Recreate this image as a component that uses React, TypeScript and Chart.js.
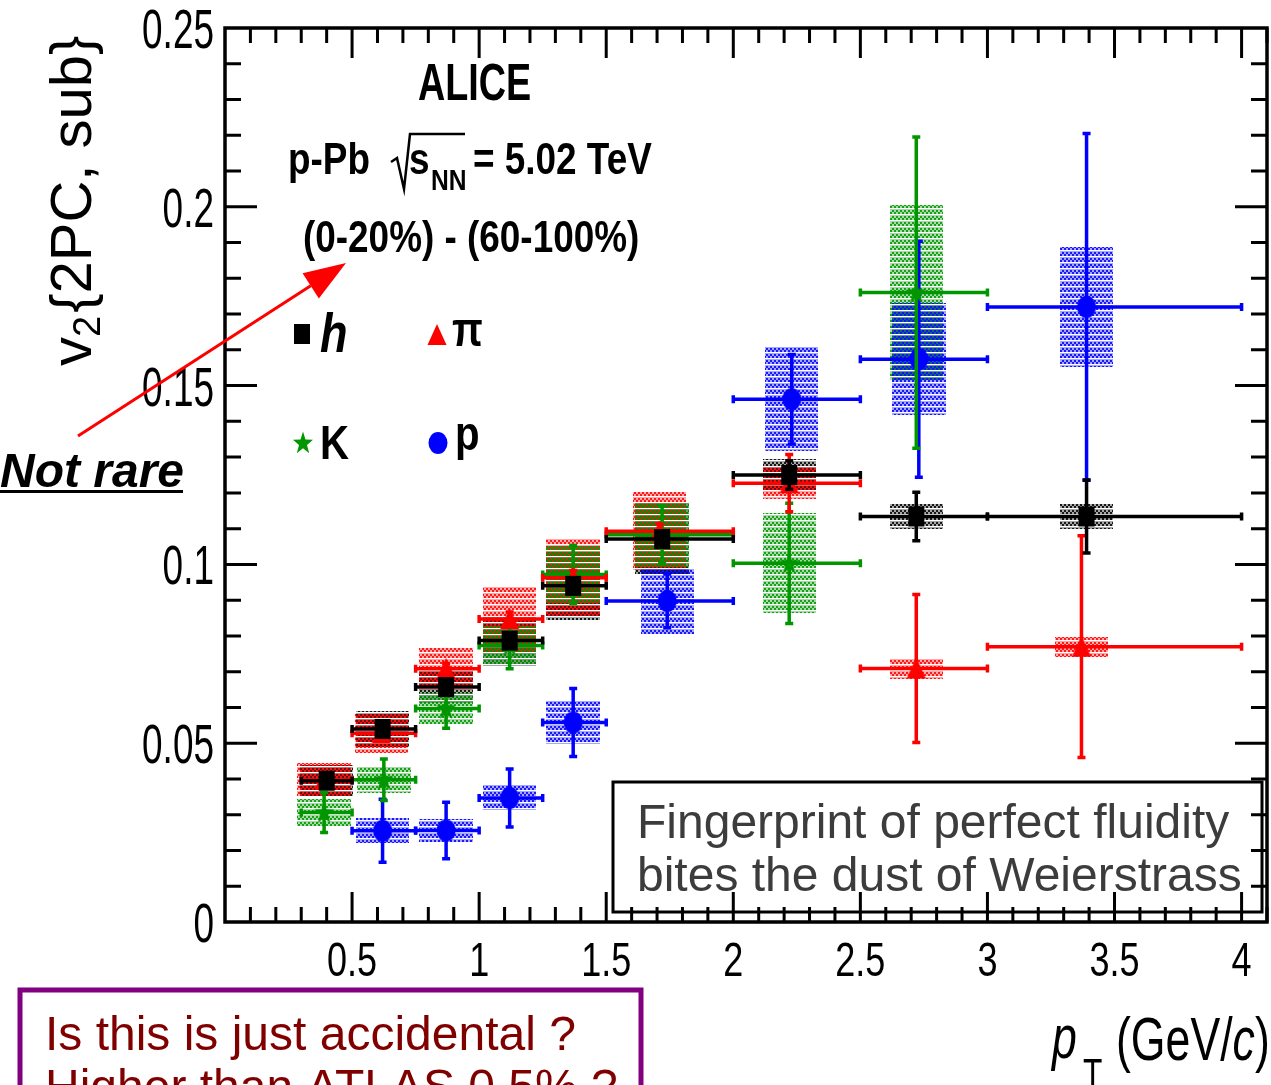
import React, { useEffect, useRef } from "react";
import { Chart, registerables } from "chart.js";
Chart.register(...registerables);

// pT bins (GeV/c)
const BIN_LOW = [0.3, 0.5, 0.75, 1.0, 1.25, 1.5, 2.0, 2.5, 3.0];
const BIN_HIGH = [0.5, 0.75, 1.0, 1.25, 1.5, 2.0, 2.5, 3.0, 4.0];

// unidentified hadrons h
const H_MEAN_PT = [0.4, 0.62, 0.87, 1.12, 1.37, 1.72, 2.22, 2.72, 3.39];
const H_V2 = [0.0395, 0.054, 0.0657, 0.0787, 0.094, 0.1071, 0.125, 0.1134, 0.1134];
const H_STAT = [0.002, 0.002, 0.002, 0.002, 0.002, 0.002, 0.004, 0.0068, 0.0102];
const H_SYS = [0.0045, 0.005, 0.0045, 0.007, 0.0095, 0.01, 0.0045, 0.0036, 0.0036];

// pions
const PI_MEAN_PT = [0.39, 0.615, 0.87, 1.12, 1.37, 1.71, 2.22, 2.72, 3.37];
const PI_V2 = [0.0398, 0.0528, 0.0708, 0.0847, 0.0963, 0.1093, 0.1227, 0.0709, 0.077];
const PI_STAT = [0.0015, 0.0015, 0.0015, 0.002, 0.002, 0.002, 0.008, 0.0207, 0.031];
const PI_SYS = [0.0046, 0.0055, 0.0058, 0.0091, 0.0108, 0.011, 0.0045, 0.003, 0.0028];

// kaons (bins 1..8)
const K_MEAN_PT = [0.39, 0.625, 0.87, 1.12, 1.37, 1.72, 2.22, 2.72];
const K_V2 = [0.0306, 0.0398, 0.0597, 0.0773, 0.0972, 0.1083, 0.1003, 0.176];
const K_STAT = [0.0056, 0.0058, 0.0055, 0.0065, 0.0081, 0.0081, 0.0168, 0.0435];
const K_SYS = [0.0037, 0.0037, 0.0044, 0.0055, 0.008, 0.009, 0.014, 0.0245];

// protons (bins 2..9)
const P_MEAN_PT = [0.62, 0.87, 1.12, 1.37, 1.74, 2.23, 2.73, 3.39];
const P_V2 = [0.0255, 0.0256, 0.0347, 0.0558, 0.0898, 0.1462, 0.1574, 0.172];
const P_STAT = [0.0088, 0.0079, 0.0081, 0.0095, 0.0075, 0.0125, 0.033, 0.0485];
const P_SYS = [0.0035, 0.0033, 0.0035, 0.006, 0.0093, 0.0145, 0.0157, 0.0168];

const X_TICKS = [0.5, 1, 1.5, 2, 2.5, 3, 3.5, 4];
const Y_TICKS = [0, 0.05, 0.1, 0.15, 0.2, 0.25];
const X_MINOR_STEP = 0.1;
const Y_MINOR_STEP = 0.01;
const SYS_HALF_WIDTH = 0.105;

const SPECIES = [
  { label: "h", color: "#000000", rgb: "0,0,0", meanPt: H_MEAN_PT, v2: H_V2, stat: H_STAT, sys: H_SYS, firstBin: 0, marker: "square", phase: 0 },
  { label: "π", color: "#ff0000", rgb: "255,0,0", meanPt: PI_MEAN_PT, v2: PI_V2, stat: PI_STAT, sys: PI_SYS, firstBin: 0, marker: "triangle", phase: 1 },
  { label: "K", color: "#009600", rgb: "0,150,0", meanPt: K_MEAN_PT, v2: K_V2, stat: K_STAT, sys: K_SYS, firstBin: 0, marker: "star", phase: 0 },
  { label: "p", color: "#0000ff", rgb: "0,0,255", meanPt: P_MEAN_PT, v2: P_V2, stat: P_STAT, sys: P_SYS, firstBin: 1, marker: "circle", phase: 1 },
];

const SANS = '"Liberation Sans", Arial, sans-serif';

function makeMarker(kind: string, color: string): HTMLCanvasElement {
  const c = document.createElement("canvas");
  c.width = 22;
  c.height = 26;
  const g = c.getContext("2d")!;
  g.fillStyle = color;
  if (kind === "square") {
    g.fillRect(3, 3, 16, 20);
  } else if (kind === "triangle") {
    g.beginPath();
    g.moveTo(11, 2);
    g.lineTo(20.5, 23);
    g.lineTo(1.5, 23);
    g.closePath();
    g.fill();
  } else if (kind === "circle") {
    g.beginPath();
    g.ellipse(11, 13, 9.5, 11, 0, 0, Math.PI * 2);
    g.fill();
  } else {
    g.save();
    g.translate(11, 13.5);
    g.scale(1, 1.15);
    g.beginPath();
    for (let i = 0; i < 10; i++) {
      const r = i % 2 === 0 ? 10.5 : 4.2;
      const a = -Math.PI / 2 + (i * Math.PI) / 5;
      const px = r * Math.cos(a);
      const py = r * Math.sin(a);
      if (i === 0) g.moveTo(px, py);
      else g.lineTo(px, py);
    }
    g.closePath();
    g.fill();
    g.restore();
  }
  return c;
}

function makePatternTile(rgb: string, phase: number): HTMLCanvasElement {
  const c = document.createElement("canvas");
  c.width = 4;
  c.height = 6;
  const g = c.getContext("2d")!;
  g.fillStyle = `rgba(${rgb},0.35)`;
  g.fillRect(0, 0, 4, 6);
  g.fillStyle = `rgba(${rgb},0.85)`;
  const ox = phase ? 2 : 0;
  g.fillRect(ox, 0, 2, 2);
  g.fillRect((ox + 2) % 4, 2, 2, 2);
  g.clearRect(0, 4, 4, 1);
  return c;
}

function drawText(
  ctx: CanvasRenderingContext2D,
  text: string,
  x: number,
  y: number,
  o: { size: number; weight?: string; style?: string; family?: string; color?: string; sx?: number; sy?: number; align?: CanvasTextAlign }
): number {
  const sx = o.sx ?? 1;
  const sy = o.sy ?? 1;
  ctx.save();
  ctx.translate(x, y);
  ctx.scale(sx, sy);
  ctx.font = `${o.style ?? "normal"} ${o.weight ?? "normal"} ${o.size}px ${o.family ?? SANS}`;
  ctx.fillStyle = o.color ?? "#000";
  ctx.textAlign = o.align ?? "left";
  ctx.textBaseline = "alphabetic";
  ctx.fillText(text, 0, 0);
  const w = ctx.measureText(text).width * sx;
  ctx.restore();
  return w;
}

export default function App() {
  const ref = useRef<HTMLCanvasElement>(null);

  useEffect(() => {
    const canvas = ref.current!;
    const markers = SPECIES.map((s) => makeMarker(s.marker, s.color));
    const tiles = SPECIES.map((s) => makePatternTile(s.rgb, s.phase));

    const physPlugin = {
      id: "physics",
      beforeDatasetsDraw(chart: any) {
        const ctx: CanvasRenderingContext2D = chart.ctx;
        const xs = chart.scales.x;
        const ys = chart.scales.y;
        SPECIES.forEach((s, si) => {
          const pat = ctx.createPattern(tiles[si], "repeat")!;
          ctx.save();
          ctx.fillStyle = pat;
          s.meanPt.forEach((x, i) => {
            const x0 = Math.round(xs.getPixelForValue(x - SYS_HALF_WIDTH));
            const x1 = Math.round(xs.getPixelForValue(x + SYS_HALF_WIDTH));
            const y0 = Math.round(ys.getPixelForValue(s.v2[i] + s.sys[i]));
            const y1 = Math.round(ys.getPixelForValue(s.v2[i] - s.sys[i]));
            ctx.fillRect(x0, y0, x1 - x0, y1 - y0);
          });
          ctx.restore();
        });
      },
      beforeDatasetDraw(chart: any, args: any) {
        const s = SPECIES[args.index];
        const ctx: CanvasRenderingContext2D = chart.ctx;
        const xs = chart.scales.x;
        const ys = chart.scales.y;
        ctx.save();
        ctx.strokeStyle = s.color;
        ctx.lineWidth = 3.5;
        ctx.lineCap = "butt";
        const cap = 4;
        s.meanPt.forEach((x, i) => {
          const b = i + s.firstBin;
          const px = xs.getPixelForValue(x);
          const py = ys.getPixelForValue(s.v2[i]);
          const xl = xs.getPixelForValue(BIN_LOW[b]);
          const xh = xs.getPixelForValue(BIN_HIGH[b]);
          const yt = ys.getPixelForValue(s.v2[i] + s.stat[i]);
          const yb = ys.getPixelForValue(s.v2[i] - s.stat[i]);
          ctx.beginPath();
          ctx.moveTo(xl, py);
          ctx.lineTo(xh, py);
          ctx.moveTo(xl, py - cap);
          ctx.lineTo(xl, py + cap);
          ctx.moveTo(xh, py - cap);
          ctx.lineTo(xh, py + cap);
          ctx.moveTo(px, yt);
          ctx.lineTo(px, yb);
          ctx.moveTo(px - cap, yt);
          ctx.lineTo(px + cap, yt);
          ctx.moveTo(px - cap, yb);
          ctx.lineTo(px + cap, yb);
          ctx.stroke();
        });
        ctx.restore();
      },
      afterDraw(chart: any) {
        const ctx: CanvasRenderingContext2D = chart.ctx;
        const xs = chart.scales.x;
        const ys = chart.scales.y;
        const { left, right, top, bottom } = chart.chartArea;

        // annotation text box (under the frame ticks)
        ctx.save();
        ctx.fillStyle = "#fff";
        ctx.fillRect(613, 782, 649, 130);
        ctx.strokeStyle = "#000";
        ctx.lineWidth = 3;
        ctx.strokeRect(613, 782, 649, 130);
        ctx.restore();
        drawText(ctx, "Fingerprint of perfect fluidity", 637, 838, { size: 48, color: "#3c3c3c" });
        drawText(ctx, "bites the dust of Weierstrass", 637, 891, { size: 48, color: "#3c3c3c" });

        // frame + inward ticks
        ctx.save();
        ctx.strokeStyle = "#000";
        ctx.lineWidth = 3.5;
        ctx.strokeRect(left, top, right - left, bottom - top);
        ctx.lineWidth = 3;
        ctx.beginPath();
        const nxm = Math.round(xs.max / X_MINOR_STEP);
        for (let k = 1; k <= nxm; k++) {
          const v = k * X_MINOR_STEP;
          const major = X_TICKS.some((t) => Math.abs(t - v) < 1e-6);
          const len = major ? 30 : 15;
          const px = xs.getPixelForValue(v);
          ctx.moveTo(px, bottom);
          ctx.lineTo(px, bottom - len);
          ctx.moveTo(px, top);
          ctx.lineTo(px, top + len);
        }
        const nym = Math.round(ys.max / Y_MINOR_STEP);
        for (let k = 1; k < nym; k++) {
          const v = k * Y_MINOR_STEP;
          const major = Y_TICKS.some((t) => Math.abs(t - v) < 1e-6);
          const len = major ? 32 : 16;
          const py = ys.getPixelForValue(v);
          ctx.moveTo(left, py);
          ctx.lineTo(left + len, py);
          ctx.moveTo(right, py);
          ctx.lineTo(right - len, py);
        }
        ctx.stroke();
        ctx.restore();

        // tick labels from the library's scale ticks (condensed face)
        xs.ticks.forEach((t: any) => {
          drawText(ctx, String(t.value), xs.getPixelForValue(t.value), 976, { size: 48, sx: 0.75, align: "center" });
        });
        ys.ticks.forEach((t: any) => {
          drawText(ctx, String(t.value), 214, ys.getPixelForValue(t.value) + 20, { size: 48, sx: 0.77, sy: 1.15, align: "right" });
        });

        // header
        const B = { weight: "bold", sx: 0.82 };
        drawText(ctx, "ALICE", 418, 100, { size: 46, ...B, sy: 1.13 });
        drawText(ctx, "p-Pb", 288, 174, { size: 45, ...B });
        ctx.save();
        ctx.strokeStyle = "#000";
        ctx.lineWidth = 2.5;
        ctx.beginPath();
        ctx.moveTo(391, 162);
        ctx.lineTo(397, 158);
        ctx.lineTo(404, 189);
        ctx.lineTo(410, 134);
        ctx.lineTo(465, 134);
        ctx.stroke();
        ctx.restore();
        drawText(ctx, "s", 409, 174, { size: 45, ...B });
        drawText(ctx, "NN", 431, 190, { size: 30, ...B });
        drawText(ctx, "= 5.02 TeV", 473, 174, { size: 45, ...B });
        drawText(ctx, "(0-20%) - (60-100%)", 303, 252, { size: 45, ...B });

        // legend
        const legendPos = [
          [302, 334, 320, 352],
          [437, 335, 452, 346],
          [303, 443, 320, 459],
          [438, 443, 455, 450],
        ];
        SPECIES.forEach((s, i) => {
          const [mx, my, tx, ty] = legendPos[i];
          const m = markers[i];
          ctx.drawImage(m, mx - m.width / 2, my - m.height / 2);
          drawText(ctx, s.label, tx, ty, {
            size: i === 0 ? 55 : 49,
            weight: "bold",
            style: i === 0 ? "italic" : "normal",
            sx: 0.82,
          });
        });

        // "Not rare" + arrow
        drawText(ctx, "Not rare", 0, 487, { size: 48, weight: "bold", style: "italic" });
        ctx.save();
        ctx.fillStyle = "#000";
        ctx.fillRect(0, 490, 183, 3);
        ctx.strokeStyle = "#ff0000";
        ctx.fillStyle = "#ff0000";
        ctx.lineWidth = 3;
        const ax0 = 78, ay0 = 436, ax1 = 346, ay1 = 263;
        const ang = Math.atan2(ay1 - ay0, ax1 - ax0);
        const hl = 42, hw = 15;
        const bx = ax1 - hl * Math.cos(ang);
        const by = ay1 - hl * Math.sin(ang);
        ctx.beginPath();
        ctx.moveTo(ax0, ay0);
        ctx.lineTo(bx, by);
        ctx.stroke();
        ctx.beginPath();
        ctx.moveTo(ax1, ay1);
        ctx.lineTo(bx + hw * Math.sin(ang), by - hw * Math.cos(ang));
        ctx.lineTo(bx - hw * Math.sin(ang), by + hw * Math.cos(ang));
        ctx.closePath();
        ctx.fill();
        ctx.restore();

        // purple question box
        ctx.save();
        ctx.strokeStyle = "#800080";
        ctx.lineWidth = 5;
        ctx.strokeRect(20, 990, 621, 140);
        ctx.restore();
        drawText(ctx, "Is this is just accidental ?", 45, 1050, { size: 48, color: "#800000" });
        drawText(ctx, "Higher than ATLAS 0.5% ?", 45, 1103, { size: 48, color: "#800000" });

        // axis titles
        drawText(ctx, "p", 1052, 1058, { size: 62, style: "italic", sx: 0.72 });
        drawText(ctx, "T", 1083, 1090, { size: 44, sx: 0.72 });
        let xx = 1116;
        xx += drawText(ctx, "(GeV/", xx, 1060, { size: 62, sx: 0.72 });
        xx += drawText(ctx, "c", xx, 1060, { size: 62, style: "italic", sx: 0.72 });
        drawText(ctx, ")", xx, 1060, { size: 62, sx: 0.72 });

        ctx.save();
        ctx.translate(91, 366);
        ctx.rotate(-Math.PI / 2);
        let yy = 0;
        yy += drawText(ctx, "v", yy, 0, { size: 58 });
        yy += drawText(ctx, "2", yy, 9, { size: 38 });
        drawText(ctx, "{2PC, sub}", yy + 3, 0, { size: 58 });
        ctx.restore();
      },
    };

    const chart = new Chart(canvas, {
      type: "scatter",
      data: {
        datasets: SPECIES.map((s, i) => ({
          label: s.label,
          data: s.meanPt.map((x, j) => ({ x, y: s.v2[j] })),
          pointStyle: markers[i] as any,
          pointRadius: 11,
          backgroundColor: s.color,
          borderColor: s.color,
          showLine: false,
        })),
      },
      options: {
        responsive: false,
        animation: false,
        devicePixelRatio: 1,
        layout: { autoPadding: false, padding: { top: 28, right: 4, left: 0, bottom: 0 } },
        plugins: { legend: { display: false }, tooltip: { enabled: false } },
        scales: {
          x: {
            type: "linear",
            min: 0,
            max: 4.1,
            border: { display: false },
            grid: { display: false, drawTicks: false },
            afterFit: (s: any) => {
              s.height = 163;
            },
            afterBuildTicks: (s: any) => {
              s.ticks = X_TICKS.map((v) => ({ value: v }));
            },
            ticks: { display: false },
          },
          y: {
            type: "linear",
            min: 0,
            max: 0.25,
            border: { display: false },
            grid: { display: false, drawTicks: false },
            afterFit: (s: any) => {
              s.width = 225;
            },
            afterBuildTicks: (s: any) => {
              s.ticks = Y_TICKS.map((v) => ({ value: v }));
            },
            ticks: { display: false },
          },
        },
      },
      plugins: [physPlugin as any],
    });
    return () => chart.destroy();
  }, []);

  return (
    <div style={{ position: "absolute", left: 0, top: 0, width: 1271, height: 1085, background: "#fff", overflow: "hidden" }}>
      <canvas ref={ref} width={1271} height={1085} style={{ display: "block", width: 1271, height: 1085 }} />
    </div>
  );
}
